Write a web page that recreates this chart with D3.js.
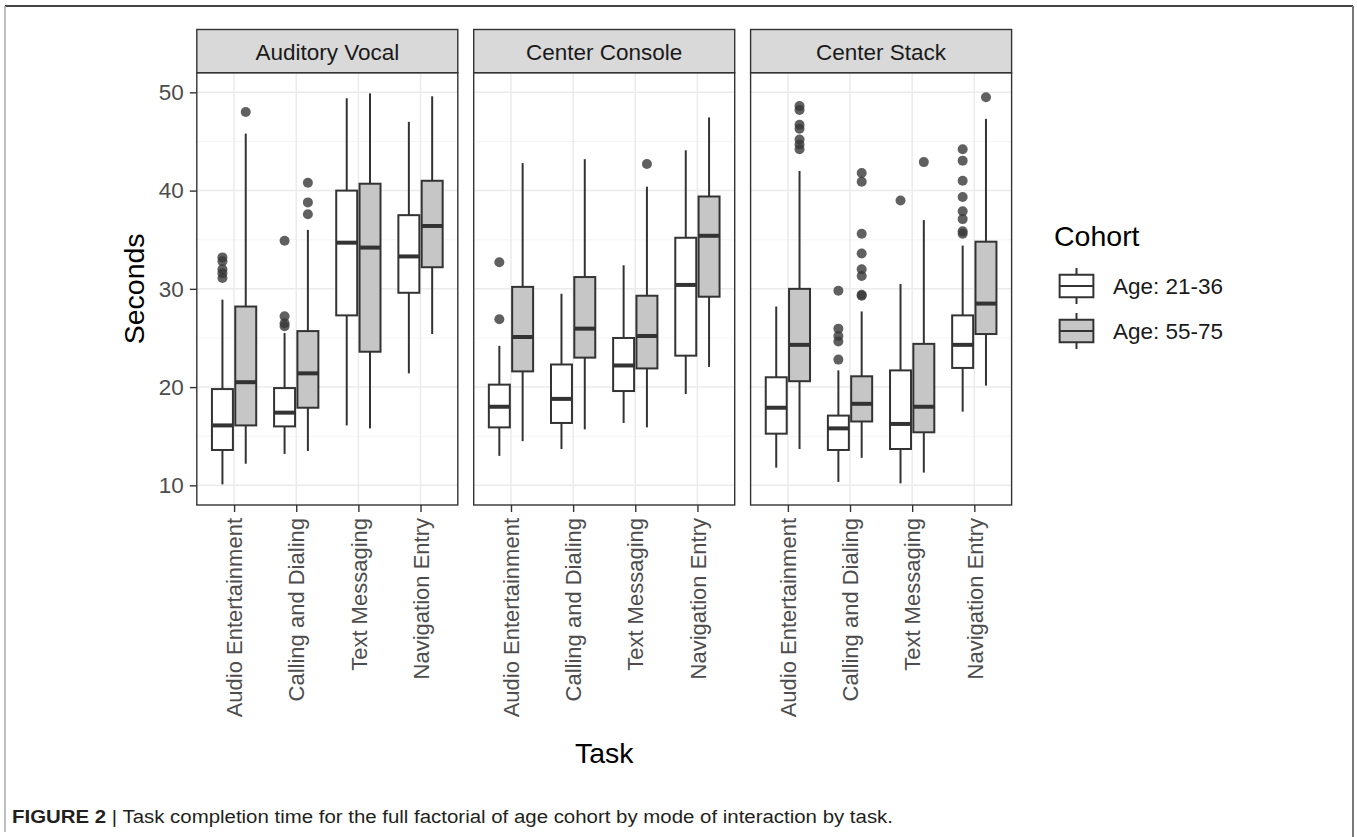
<!DOCTYPE html>
<html><head><meta charset="utf-8">
<script src="https://cdn.jsdelivr.net/npm/d3@7"></script>
<style>body{margin:0;background:#fff}svg{display:block}</style>
</head><body>
<svg id="chart" width="1357" height="837"></svg>
<script>
// ---------- DATA ----------
const facets = ["Auditory Vocal", "Center Console", "Center Stack"];
const tasks = ["Audio Entertainment", "Calling and Dialing", "Text Messaging", "Navigation Entry"];
const cohorts = ["Age: 21-36", "Age: 55-75"];
const yTicks = [10, 20, 30, 40, 50];
const yMinor = [15, 25, 35, 45];

// box order: facet -> task -> cohort (young, old)
const whiskerLow = [10.1,12.2, 13.2,13.5, 16.1,15.8, 21.4,25.4,
                    13.0,14.5, 13.7,15.7, 16.35,15.9, 19.3,22.05,
                    11.8,13.7, 10.35,12.8, 10.2,11.3, 17.5,20.15];
const q1 =         [13.6,16.1, 16.0,17.9, 27.3,23.6, 29.6,32.2,
                    15.9,21.6, 16.35,23.0, 19.6,21.9, 23.2,29.2,
                    15.26,20.6, 13.6,16.5, 13.7,15.4, 21.95,25.4];
const medians =    [16.1,20.5, 17.4,21.4, 34.7,34.2, 33.3,36.4,
                    18.0,25.1, 18.8,25.95, 22.2,25.2, 30.4,35.4,
                    17.9,24.3, 15.8,18.3, 16.25,18.0, 24.3,28.5];
const q3 =         [19.8,28.2, 19.9,25.7, 40.0,40.7, 37.5,41.0,
                    20.25,30.2, 22.3,31.2, 25.0,29.3, 35.2,39.4,
                    21.0,30.0, 17.1,21.1, 21.7,24.4, 27.3,34.8];
const whiskerHigh= [28.9,45.8, 25.5,36.0, 49.4,49.9, 47.0,49.6,
                    24.2,42.8, 29.5,43.2, 32.4,40.4, 44.1,47.45,
                    28.2,42.0, 21.7,27.7, 30.5,37.0, 34.4,47.3];
const outliers = [
  [33.2,32.8,32.0,31.6,31.1], [48.0], [34.9,27.2,26.5,26.2], [40.8,38.8,37.6], [], [], [], [],
  [32.7,26.9], [], [], [], [], [42.7], [], [],
  [], [48.6,48.2,46.7,46.3,45.2,44.7,44.2], [29.8,25.95,25.2,24.65,22.8], [41.8,40.9,35.6,33.6,32.0,31.3,29.4,29.3],
  [39.0], [42.9], [44.2,43.05,41.0,39.35,37.9,37.1,35.85,35.6], [49.5]
];
const fills = ["#ffffff", "#c6c6c6"];

// ---------- LAYOUT ----------
const svg = d3.select("#chart");
const stroke = "#333333";
const font = "Arial, 'Liberation Sans', Helvetica, sans-serif";
const panelTop = 72.7, panelBottom = 505, stripTop = 29.5;

const fx = d3.scaleBand().domain(facets).range([196.8, 1011.6]).paddingInner(0.0574).paddingOuter(0);
const y = d3.scaleLinear().domain([8, 52]).range([panelBottom, panelTop]);

// frame of the figure
svg.append("line").attr("x1",5).attr("x2",1353).attr("y1",6).attr("y2",6).attr("stroke","#444").attr("stroke-width",2);
svg.append("line").attr("x1",5).attr("x2",5).attr("y1",6).attr("y2",832).attr("stroke","#aaa").attr("stroke-width",1.5);
svg.append("line").attr("x1",1353).attr("x2",1353).attr("y1",6).attr("y2",837).attr("stroke","#777").attr("stroke-width",2);

facets.forEach((f, fi) => {
  const x0 = fx(f), w = fx.bandwidth();
  const x = d3.scalePoint().domain(tasks).range([x0, x0 + w]).padding(0.6);
  const step = x.step();
  const g = svg.append("g");
  g.append("rect").attr("x", x0).attr("y", panelTop).attr("width", w).attr("height", panelBottom - panelTop).attr("fill", "#fff");
  g.selectAll(".ymin").data(yMinor).join("line")
    .attr("x1", x0).attr("x2", x0 + w).attr("y1", d => y(d)).attr("y2", d => y(d))
    .attr("stroke", "#f2f2f2").attr("stroke-width", 0.8);
  g.selectAll(".ymaj").data(yTicks).join("line")
    .attr("x1", x0).attr("x2", x0 + w).attr("y1", d => y(d)).attr("y2", d => y(d))
    .attr("stroke", "#ebebeb").attr("stroke-width", 1.5);
  g.selectAll(".xmaj").data(tasks).join("line")
    .attr("x1", d => x(d)).attr("x2", d => x(d)).attr("y1", panelTop).attr("y2", panelBottom)
    .attr("stroke", "#ebebeb").attr("stroke-width", 1.5);

  tasks.forEach((t, ti) => {
    cohorts.forEach((c, ci) => {
      const i = fi * 8 + ti * 2 + ci;
      const cx = x(t) + (ci === 0 ? -0.1875 : 0.1875) * step;
      const bw = 0.3375 * step;
      g.append("line").attr("x1", cx).attr("x2", cx).attr("y1", y(q3[i])).attr("y2", y(whiskerHigh[i]))
        .attr("stroke", stroke).attr("stroke-width", 2);
      g.append("line").attr("x1", cx).attr("x2", cx).attr("y1", y(q1[i])).attr("y2", y(whiskerLow[i]))
        .attr("stroke", stroke).attr("stroke-width", 2);
      g.append("rect").attr("x", cx - bw / 2).attr("y", y(q3[i])).attr("width", bw).attr("height", y(q1[i]) - y(q3[i]))
        .attr("fill", fills[ci]).attr("stroke", stroke).attr("stroke-width", 2);
      g.append("line").attr("x1", cx - bw / 2).attr("x2", cx + bw / 2).attr("y1", y(medians[i])).attr("y2", y(medians[i]))
        .attr("stroke", stroke).attr("stroke-width", 4);
      g.selectAll(null).data(outliers[i]).join("circle")
        .attr("cx", cx).attr("cy", d => y(d)).attr("r", 5)
        .attr("fill", "#383838").attr("fill-opacity", 0.8);
    });
  });

  g.append("rect").attr("x", x0).attr("y", panelTop).attr("width", w).attr("height", panelBottom - panelTop)
    .attr("fill", "none").attr("stroke", stroke).attr("stroke-width", 1.4);
  g.append("rect").attr("x", x0).attr("y", stripTop).attr("width", w).attr("height", panelTop - stripTop)
    .attr("fill", "#d9d9d9").attr("stroke", stroke).attr("stroke-width", 1.4);
  g.append("text").attr("x", x0 + w / 2).attr("y", (stripTop + panelTop) / 2 + 1.5).attr("dy", "0.35em")
    .attr("text-anchor", "middle").attr("font-family", font).attr("font-size", 22.5).attr("fill", "#1a1a1a").text(f);

  const xa = d3.axisBottom(x).tickSize(7).tickSizeOuter(0).tickPadding(0);
  const ax = g.append("g").attr("transform", `translate(0,${panelBottom})`).call(xa);
  ax.select(".domain").remove();
  ax.selectAll(".tick line").attr("stroke", stroke).attr("stroke-width", 1.4);
  ax.selectAll(".tick text").attr("font-family", font).attr("font-size", 22).attr("fill", "#4d4d4d")
    .attr("transform", "rotate(-90)").attr("text-anchor", "end")
    .attr("x", -13).attr("y", 0).attr("dy", "0.35em");

  if (fi === 0) {
    const ya = d3.axisLeft(y).tickValues(yTicks).tickSize(7).tickSizeOuter(0).tickPadding(6);
    const ay = g.append("g").attr("transform", `translate(${x0},0)`).call(ya);
    ay.select(".domain").remove();
    ay.selectAll(".tick line").attr("stroke", stroke).attr("stroke-width", 1.4);
    ay.selectAll(".tick text").attr("font-family", font).attr("font-size", 22.5).attr("fill", "#4d4d4d");
  }
});

svg.append("text").attr("transform", `translate(143.5,${(panelTop + panelBottom) / 2}) rotate(-90)`)
  .attr("text-anchor", "middle").attr("font-family", font).attr("font-size", 28.5).attr("fill", "#000").text("Seconds");
svg.append("text").attr("x", (196.8 + 1011.6) / 2).attr("y", 762.5)
  .attr("text-anchor", "middle").attr("font-family", font).attr("font-size", 28.5).attr("fill", "#000").text("Task");

// legend
const lg = svg.append("g").attr("transform", "translate(1054,263.5)");
const ks = 45;
lg.append("text").attr("x", 0).attr("y", -18).attr("font-family", font).attr("font-size", 28.5).attr("fill", "#000").text("Cohort");
cohorts.forEach((c, ci) => {
  const k = lg.append("g").attr("transform", `translate(0,${ci * ks})`);
  k.append("line").attr("x1", ks / 2).attr("x2", ks / 2).attr("y1", 0.1 * ks).attr("y2", 0.25 * ks).attr("stroke", stroke).attr("stroke-width", 2);
  k.append("line").attr("x1", ks / 2).attr("x2", ks / 2).attr("y1", 0.75 * ks).attr("y2", 0.9 * ks).attr("stroke", stroke).attr("stroke-width", 2);
  k.append("rect").attr("x", 0.125 * ks).attr("y", 0.25 * ks).attr("width", 0.75 * ks).attr("height", 0.5 * ks)
    .attr("fill", fills[ci]).attr("stroke", stroke).attr("stroke-width", 2);
  k.append("line").attr("x1", 0.125 * ks).attr("x2", 0.875 * ks).attr("y1", 0.5 * ks).attr("y2", 0.5 * ks).attr("stroke", stroke).attr("stroke-width", 2);
  k.append("text").attr("x", ks + 14).attr("y", ks / 2).attr("dy", "0.35em")
    .attr("font-family", font).attr("font-size", 22.5).attr("fill", "#1a1a1a").text(c);
});

// caption
const cap = svg.append("text").attr("x", 12).attr("y", 823)
  .attr("font-family", font).attr("font-size", 18).attr("fill", "#231f20");
cap.append("tspan").attr("font-weight", "bold").text("FIGURE 2");
cap.append("tspan").text(" | Task completion time for the full factorial of age cohort by mode of interaction by task.");
cap.attr("textLength", 881).attr("lengthAdjust", "spacingAndGlyphs");
</script>
</body></html>
